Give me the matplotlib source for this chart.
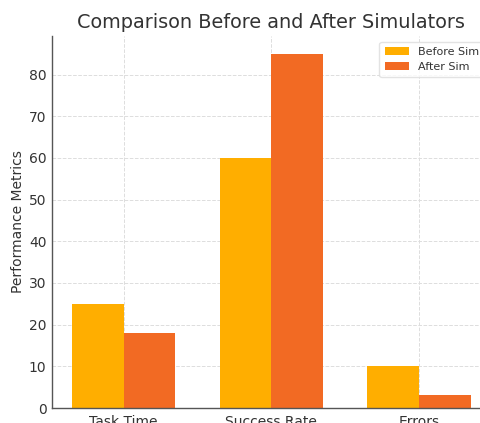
"""Grouped bar chart: performance metrics before and after simulator training."""

import matplotlib

matplotlib.use("Agg")

import matplotlib.pyplot as plt
import numpy as np

categories = ["Task Time", "Success Rate", "Errors"]
before_sim = [25, 60, 10]
after_sim = [18, 85, 3]

BEFORE_COLOR = "#FFAE00"
AFTER_COLOR = "#F26A23"
TEXT_COLOR = "#333333"


def main() -> None:
    fig = plt.figure(figsize=(4.81, 4.23), dpi=100)
    # axes run slightly past the right edge of the canvas
    ax = fig.add_axes([52 / 481, 15 / 423, 438.5 / 481, 372 / 423])

    x = np.arange(len(categories))
    width = 0.35
    ax.bar(x - width / 2, before_sim, width, color=BEFORE_COLOR, label="Before Sim", zorder=2)
    ax.bar(x + width / 2, after_sim, width, color=AFTER_COLOR, label="After Sim", zorder=2)

    ax.set_xticks(x)
    ax.set_xticklabels(categories)
    ax.set_ylabel("Performance Metrics", fontsize=10, color=TEXT_COLOR, labelpad=3)
    ax.set_title("Comparison Before and After Simulators", fontsize=13.9, color=TEXT_COLOR, pad=6)

    ax.grid(True, linestyle="--", color="#dddddd", linewidth=0.7, zorder=0)
    ax.set_axisbelow(True)
    for side in ("top", "right"):
        ax.spines[side].set_visible(False)
    for side in ("left", "bottom"):
        ax.spines[side].set_color("#555555")
        ax.spines[side].set_linewidth(1.0)
    ax.tick_params(length=0, labelsize=10, labelcolor=TEXT_COLOR, pad=4)
    ax.tick_params(axis="x", pad=5)

    leg = ax.legend(loc="upper right", fontsize=8, frameon=True, handlelength=2.2,
                    borderpad=0.5, labelspacing=0.4)
    for text in leg.get_texts():
        text.set_color(TEXT_COLOR)
    leg.get_frame().set_edgecolor("#dddddd")

    fig.savefig("out.png", dpi=100)
    plt.close(fig)


if __name__ == "__main__":
    main()
